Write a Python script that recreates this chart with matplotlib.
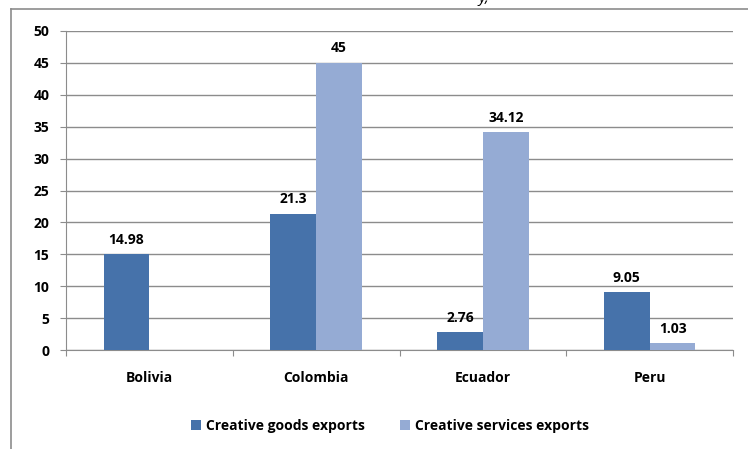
import matplotlib.pyplot as plt
import numpy as np

countries = ["Bolivia", "Colombia", "Ecuador", "Peru"]
goods = [14.98, 21.3, 2.76, 9.05]
services = [None, 45, 34.12, 1.03]
goods_labels = ["14.98", "21.3", "2.76", "9.05"]
services_labels = ["", "45", "34.12", "1.03"]
yticks = [0, 5, 10, 15, 20, 25, 30, 35, 40, 45, 50]

plt.rcParams['font.family'] = ['Open Sans', 'DejaVu Sans']

fig = plt.figure(figsize=(7.48, 4.49), dpi=100)
W, H = 748, 449
ax = fig.add_axes([66 / W, 1 - 350 / H, 667 / W, (350 - 31) / H])

x = np.arange(len(countries))
bw = 0.275
g_col = "#4672AA"
s_col = "#95ABD4"
fs = 10

gvals = [v if v is not None else 0 for v in goods]
svals = [v if v is not None else 0 for v in services]
ax.bar(x - bw / 2, gvals, bw, color=g_col, label="Creative goods exports", zorder=3)
ax.bar(x + bw / 2, svals, bw, color=s_col, label="Creative services exports", zorder=3)

for i in range(len(countries)):
    ax.text(x[i] - bw / 2, gvals[i] + 1.2, goods_labels[i], ha="center", va="bottom",
            fontsize=fs, fontweight="bold")
    if services_labels[i]:
        ax.text(x[i] + bw / 2, svals[i] + 1.2, services_labels[i], ha="center", va="bottom",
                fontsize=fs, fontweight="bold")

ax.set_xlim(-0.5, 3.5)
ax.set_ylim(0, 50)
ax.set_yticks(yticks)
ax.set_yticklabels([str(t) for t in yticks], fontsize=fs, fontweight="bold")
ax.set_xticks([-0.5, 0.5, 1.5, 2.5, 3.5])
ax.set_xticklabels([])
ax.set_xticks(x, minor=True)
ax.set_xticklabels(countries, minor=True, fontsize=fs, fontweight="bold")
ax.tick_params(axis="x", which="minor", length=0, pad=15)
ax.tick_params(axis="x", which="major", length=4, color="#8c8c8c", direction="out")
ax.tick_params(axis="y", length=4, color="#8c8c8c", pad=8)

ax.grid(axis="y", color="#8c8c8c", linewidth=1, zorder=0)
for side in ["top", "right"]:
    ax.spines[side].set_visible(False)
ax.spines["left"].set_color("#8c8c8c")
ax.spines["bottom"].set_color("#8c8c8c")

fig.legend(loc="center", bbox_to_anchor=(390 / W, 1 - 426 / H), ncol=2, frameon=False,
           prop={"size": fs, "weight": "bold"}, handlelength=0.7, handleheight=0.7,
           columnspacing=2.5, handletextpad=0.4)

# outer frame (partial)
fig.add_artist(plt.Line2D([11 / W, 11 / W], [0, 1 - 9 / H], transform=fig.transFigure,
                          color="#8c8c8c", linewidth=1.2))
fig.add_artist(plt.Line2D([11 / W, 1], [1 - 9 / H, 1 - 9 / H], transform=fig.transFigure,
                          color="#8c8c8c", linewidth=1.2))
# cut-off title fragment
fig.text(478 / W, 1 - 6 / H, "y,", fontsize=11, style="italic", ha="left", va="bottom")

fig.savefig("out.png", dpi=100)
